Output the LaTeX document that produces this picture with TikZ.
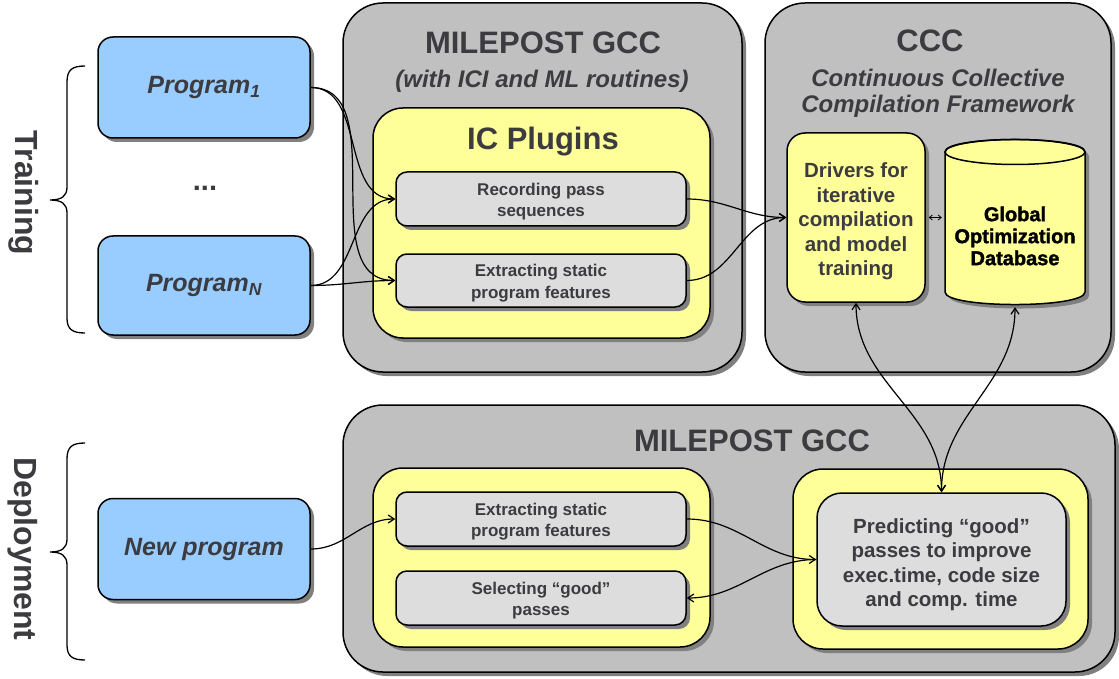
\documentclass[tikz,border=0pt]{standalone}
\usepackage{fontspec}
\setmainfont{Liberation Sans}
\usetikzlibrary{shadows,arrows.meta}
\definecolor{tgray}{RGB}{60,60,64}
\definecolor{bluefill}{RGB}{153,204,255}
\definecolor{outergray}{RGB}{192,192,192}
\definecolor{yel}{RGB}{255,255,153}
\definecolor{stepgray}{RGB}{221,221,221}
\definecolor{shadowc}{RGB}{128,128,128}
\tikzset{
  shadowed/.style={general shadow={shadow xshift=4pt,shadow yshift=-4pt,fill=shadowc}},
  box/.style={draw=black, line width=1.5pt, shadowed, text=tgray, align=center, inner sep=0pt},
  progbox/.style={box, fill=bluefill, rounded corners=15pt, minimum width=212pt, minimum height=101pt,
     font=\fontsize{25}{30}\selectfont\bfseries\itshape},
  outerbox/.style={box, fill=outergray, rounded corners=40pt},
  yelbox/.style={box, fill=yel, rounded corners=30pt},
  stepbox/.style={box, fill=stepgray, rounded corners=11pt, minimum width=290pt, minimum height=54pt},
  steptext/.style={text=tgray, align=center, inner sep=0pt, yshift=-2.5pt,
     font=\fontsize{17}{21.5}\selectfont\bfseries},
  bigtext/.style={text=tgray, align=center, inner sep=0pt,
     font=\fontsize{20.5}{24.5}\selectfont\bfseries},
  titletext/.style={text=tgray, font=\fontsize{31}{36}\selectfont\bfseries, inner sep=0pt},
  subtext/.style={text=tgray, font=\fontsize{24}{26}\selectfont\bfseries\itshape, inner sep=0pt, align=center},
  sidetext/.style={text=tgray, font=\fontsize{32}{36}\selectfont\bfseries, rotate=-90, inner sep=0pt},
  conn/.style={line width=1.2pt, -{Straight Barb[length=6pt,width=8pt]}},
  dconn/.style={line width=1.2pt, {Straight Barb[length=6pt,width=8pt]}-{Straight Barb[length=6pt,width=8pt]}},
  brace/.style={line width=1.3pt}
}
\begin{document}
\begin{tikzpicture}[x=1pt,y=-1pt]
\useasboundingbox[fill=white] (0,0) rectangle (1119,679);

% side labels and braces
\node[sidetext] (train) at (24,193) {Training};
\node[sidetext] (deploy) at (23,549) {Deployment};
\draw[brace] (85,66) .. controls (72,66) and (67,70) .. (67,82) -- (67,187)
  .. controls (67,196) and (62,200) .. (50,200) .. controls (62,200) and (67,204) .. (67,213)
  -- (67,318) .. controls (67,329) and (72,333) .. (85,333);
\draw[brace] (85,443) .. controls (72,443) and (67,447) .. (67,459) -- (67,539)
  .. controls (67,548) and (62,552) .. (50,552) .. controls (62,552) and (67,556) .. (67,565)
  -- (67,645) .. controls (67,656) and (72,660) .. (85,660);

% program boxes
\node[progbox] (p1) at (204,87.5) {Program\textsubscript{1}};
\node[progbox, minimum height=99pt] (pN) at (204,285.5) {Program\textsubscript{N}};
\node[text=tgray, font=\fontsize{29}{30}\selectfont\bfseries, inner sep=0pt] (dots) at (205,188) {...};
\node[progbox] (np) at (204,549) {New program};

% MILEPOST GCC (training)
\node[outerbox, minimum width=399pt, minimum height=369pt] (mg1) at (542.5,187.5) {};
\node[titletext] (mg1t) at (543,43) {MILEPOST GCC};
\node[subtext] (mg1s) at (542,81) {(with ICI and ML routines)};
\node[yelbox, minimum width=337pt, minimum height=230pt] (icp) at (541.5,223) {};
\node[titletext] (icpt) at (543,142) {IC Plugins};
\node[stepbox] (rec) at (541,199) {};
\node[steptext] at (rec) {Recording pass\\sequences};
\node[stepbox, minimum height=53pt] (ext1) at (541,280.5) {};
\node[steptext] at (ext1) {Extracting static\\program features};

% CCC
\node[outerbox, minimum width=346pt, minimum height=369pt] (ccc) at (938,187.5) {};
\node[titletext] (ccct) at (930,41) {CCC};
\node[subtext] (cccs) at (938,93) {Continuous Collective\\Compilation Framework};
\node[box, fill=yel, rounded corners=18pt, minimum width=138pt, minimum height=169pt] (drv) at (856,217.5) {};
\node[bigtext, yshift=-4pt] at (drv) {Drivers for\\iterative\\compilation\\and model\\training};
% database cylinder
\path[fill=shadowc, xshift=4pt, yshift=-4pt] (945,152) -- (945,292) .. controls (945,308.7) and (1085,308.7) .. (1085,292)
   -- (1085,152) .. controls (1085,135.3) and (945,135.3) .. cycle;
\draw[fill=yel, line width=1.5pt] (945,152) -- (945,292) .. controls (945,308.7) and (1085,308.7) .. (1085,292)
   -- (1085,152) .. controls (1085,135.3) and (945,135.3) .. cycle;
\draw[line width=1.5pt] (1015,152) ellipse [x radius=70pt, y radius=12.5pt];
\node[minimum width=140pt, minimum height=150pt, inner sep=0pt] (db) at (1015,232) {};
\node[inner sep=0pt, align=center, yshift=-4pt,
      font=\fontsize{20}{22}\selectfont\bfseries\addfontfeature{FakeBold=1.6}] at (db)
      {Global\\Optimization\\Database};

% MILEPOST GCC (deployment)
\node[outerbox, minimum width=772pt, minimum height=267pt] (mg2) at (729,538.5) {};
\node[titletext] (mg2t) at (752,441) {MILEPOST GCC};
\node[yelbox, minimum width=337pt, minimum height=179pt] (yl) at (541.5,557.5) {};
\node[stepbox] (ext2) at (541,519) {};
\node[steptext] at (ext2) {Extracting static\\program features};
\node[stepbox] (sel) at (541,598) {};
\node[steptext] at (sel) {Selecting “good”\\passes};
\node[yelbox, minimum width=295pt, minimum height=180pt] (yr) at (940.5,559) {};
\node[box, fill=stepgray, rounded corners=25pt, minimum width=249pt, minimum height=133pt] (pred) at (941.5,559.5) {};
\node[bigtext, yshift=-5pt] at (pred) {Predicting “good”\\passes to improve\\exec.time, code size\\and comp. time};

% connectors
\draw[conn] (p1.east) to[out=0,in=180] (rec.west);
\draw[conn] (p1.east) to[out=0,in=180] (ext1.west);
\draw[conn] (pN.east) to[out=0,in=180] (rec.west);
\draw[conn] (pN.east) to[out=0,in=180] (ext1.west);
\draw[conn] (rec.east) to[out=0,in=180] (drv.west);
\draw[conn] (ext1.east) to[out=0,in=180] (drv.west);
\draw[line width=0.8pt, {Straight Barb[length=3pt,width=5pt]}-{Straight Barb[length=3pt,width=5pt]},
      shorten <=3pt, shorten >=3pt] (drv.east) -- (drv.east -| db.west);
\draw[dconn] (drv.south) to[out=-90,in=90] (pred.north);
\draw[dconn] (db.south) to[out=-90,in=90] (pred.north);
\draw[conn] (np.east) to[out=0,in=180] (ext2.west);
\draw[conn] (ext2.east) to[out=0,in=180] (pred.west);
\draw[conn] (pred.west) to[out=180,in=0] (sel.east);
\end{tikzpicture}
\end{document}
